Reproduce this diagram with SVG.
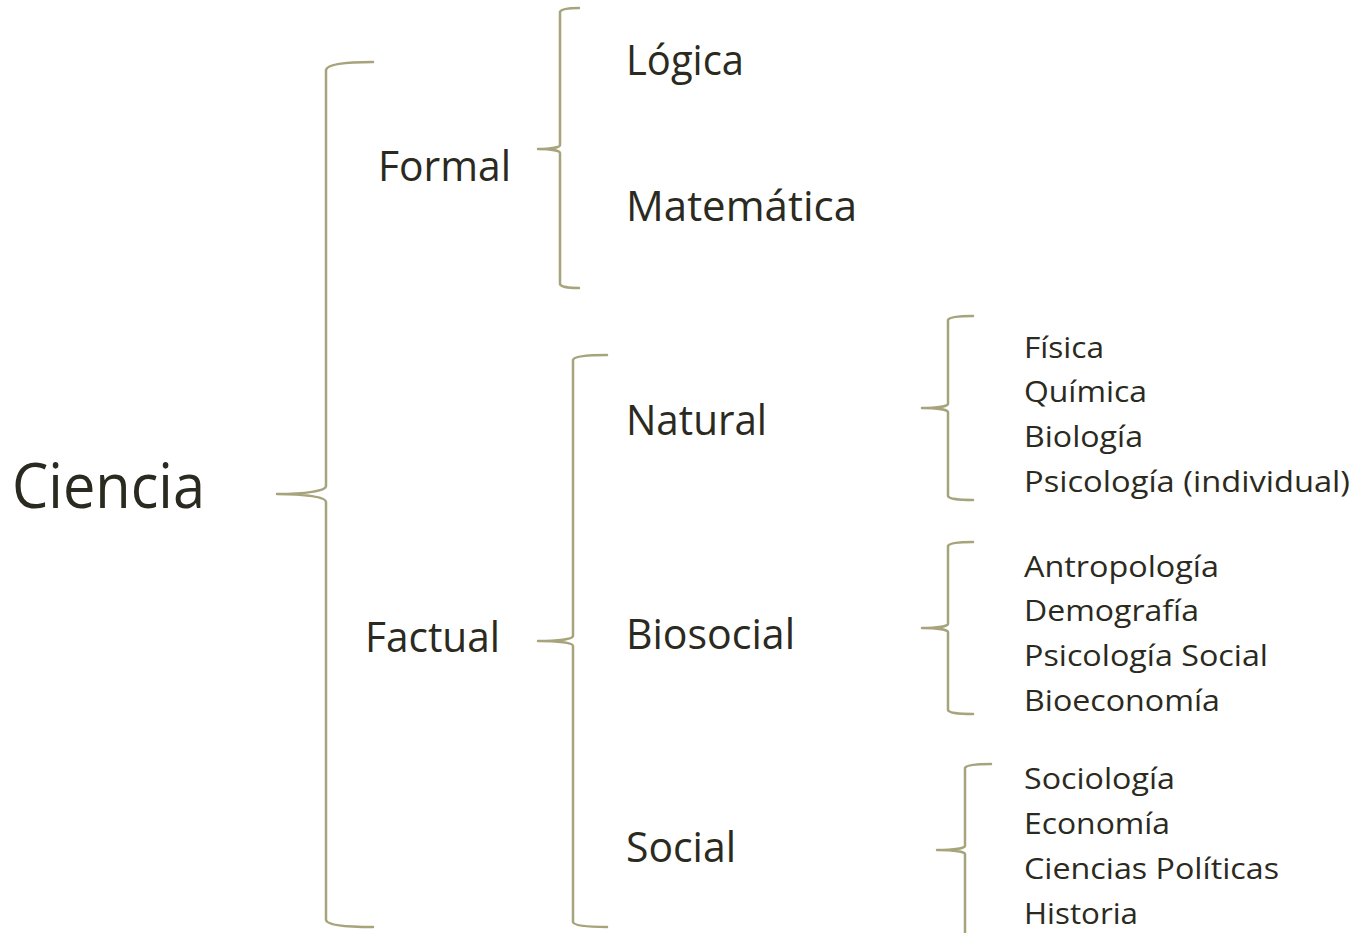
<svg xmlns="http://www.w3.org/2000/svg" width="1355" height="933" viewBox="0 0 1355 933">
<style>
text{font-family:"Open Sans","Noto Sans","Liberation Sans",sans-serif;fill:#2b2a21}
.b{fill:none;stroke:#a7a47c;stroke-width:2.5;stroke-linecap:round;stroke-linejoin:round}
.l{font-size:42px}
.s{font-size:29px}
</style>
<rect width="1355" height="933" fill="#fff"/>
<g id="connectors">
<path class="b" d="M373,62 C345,62 327,64 326,70 L326,486 C326,491 305,494 277,494 C305,494 326,497 326,502 L326,920 C327,925 345,927 373,927"/>
<path class="b" d="M579,8 C568,8 561,9 560,12 L560,145 C560,147 552,149 538,149 C552,149 560,151 560,153 L560,284 C561,287 568,288 579,288"/>
<path class="b" d="M607,355 C590,355 574,356 573,360 L573,636 C573,639 558,641 538,641 C558,641 573,643 573,646 L573,922 C574,926 590,927 607,927"/>
<path class="b" d="M973,316 C960,316 949,317 948,320 L948,404 C948,406 938,408 922,408 C938,408 948,410 948,412 L948,496 C949,499 960,500 973,500"/>
<path class="b" d="M973,542 C960,542 949,543 948,546 L948,624 C948,626 938,628 922,628 C938,628 948,630 948,632 L948,710 C949,713 960,714 973,714"/>
<path class="b" d="M991,764 C978,764 966,765 965,768 L965,846 C965,848 955,850 937,850 C955,850 965,852 965,854 L965,940"/>
</g>
<g id="ciencia"><text x="12" y="508" font-size="62" textLength="193" lengthAdjust="spacingAndGlyphs">Ciencia</text></g>
<g id="formal"><text class="l" x="378" y="181" textLength="133" lengthAdjust="spacingAndGlyphs">Formal</text></g>
<g id="factual"><text class="l" x="365" y="652" textLength="135" lengthAdjust="spacingAndGlyphs">Factual</text></g>
<g id="logica"><text class="l" x="626" y="75" textLength="118" lengthAdjust="spacingAndGlyphs">Lógica</text></g>
<g id="matematica"><text class="l" x="626" y="221" textLength="231" lengthAdjust="spacingAndGlyphs">Matemática</text></g>
<g id="natural"><text class="l" x="626" y="435" textLength="141" lengthAdjust="spacingAndGlyphs">Natural</text></g>
<g id="biosocial"><text class="l" x="626" y="649" textLength="169" lengthAdjust="spacingAndGlyphs">Biosocial</text></g>
<g id="social"><text class="l" x="626" y="862" textLength="110" lengthAdjust="spacingAndGlyphs">Social</text></g>
<g id="natural-list">
<text class="s" x="1024" y="358" textLength="80" lengthAdjust="spacingAndGlyphs">Física</text>
<text class="s" x="1024" y="402" textLength="123" lengthAdjust="spacingAndGlyphs">Química</text>
<text class="s" x="1024" y="447" textLength="119" lengthAdjust="spacingAndGlyphs">Biología</text>
<text class="s" x="1024" y="492" textLength="326" lengthAdjust="spacingAndGlyphs">Psicología (individual)</text>
</g>
<g id="biosocial-list">
<text class="s" x="1024" y="577" textLength="195" lengthAdjust="spacingAndGlyphs">Antropología</text>
<text class="s" x="1024" y="621" textLength="175" lengthAdjust="spacingAndGlyphs">Demografía</text>
<text class="s" x="1024" y="666" textLength="244" lengthAdjust="spacingAndGlyphs">Psicología Social</text>
<text class="s" x="1024" y="711" textLength="196" lengthAdjust="spacingAndGlyphs">Bioeconomía</text>
</g>
<g id="social-list">
<text class="s" x="1024" y="789" textLength="151" lengthAdjust="spacingAndGlyphs">Sociología</text>
<text class="s" x="1024" y="834" textLength="146" lengthAdjust="spacingAndGlyphs">Economía</text>
<text class="s" x="1024" y="879" textLength="255" lengthAdjust="spacingAndGlyphs">Ciencias Políticas</text>
<text class="s" x="1024" y="924" textLength="114" lengthAdjust="spacingAndGlyphs">Historia</text>
</g>
</svg>
